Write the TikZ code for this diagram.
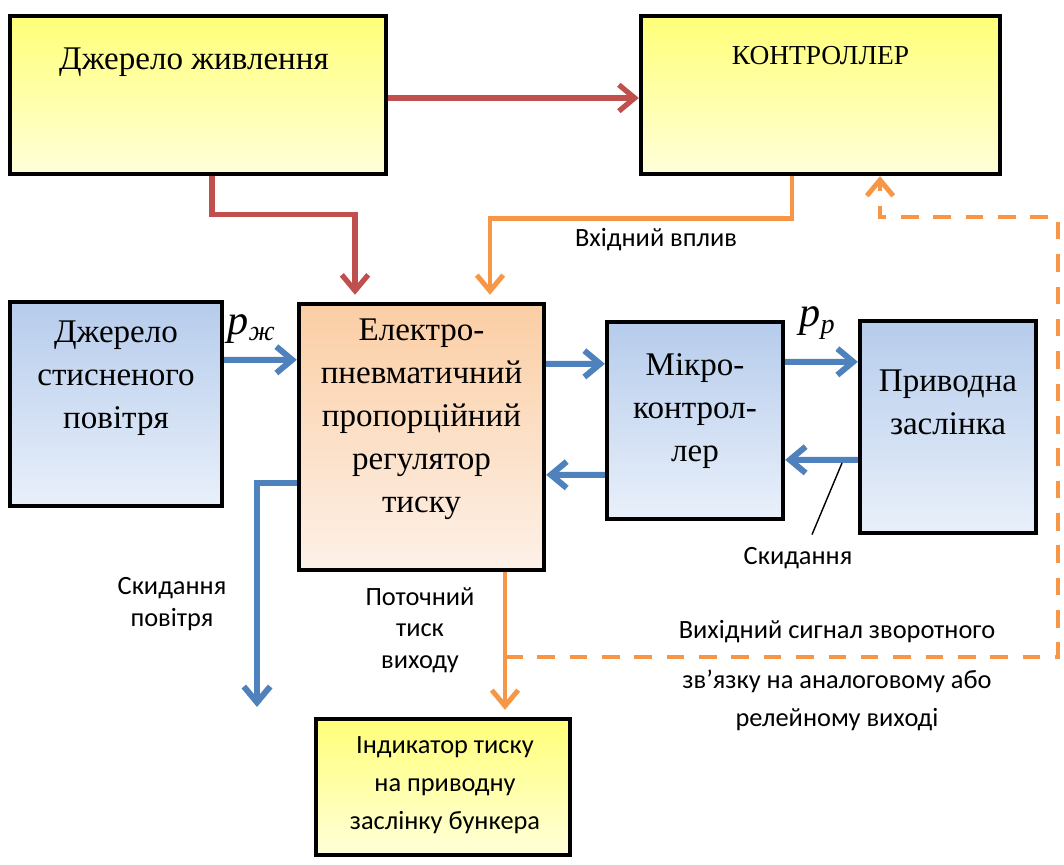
\documentclass[tikz,border=0pt]{standalone}
\usepackage{fontspec}
\setmainfont{Liberation Serif}
\setsansfont{Carlito}
\usetikzlibrary{positioning,calc,arrows.meta}
\definecolor{yelTop}{RGB}{255,255,120}
\definecolor{yelBot}{RGB}{255,255,218}
\definecolor{bluTop}{RGB}{182,204,236}
\definecolor{bluBot}{RGB}{233,240,250}
\definecolor{orgTop}{RGB}{251,206,164}
\definecolor{orgBot}{RGB}{253,241,232}
\definecolor{arrRed}{RGB}{192,80,77}
\definecolor{arrOrange}{RGB}{247,150,70}
\definecolor{arrBlue}{RGB}{79,129,189}
\tikzset{
  block/.style={draw=black,line width=1.2pt,inner sep=0pt},
  ybox/.style={block,top color=yelTop,bottom color=yelBot},
  bbox/.style={block,top color=bluTop,bottom color=bluBot},
  obox/.style={block,top color=orgTop,bottom color=orgBot},
  serif/.style={font=\fontsize{9.4}{12.2}\selectfont,align=center,inner sep=0pt},
  sans/.style={font=\sffamily\fontsize{7.5}{9}\selectfont,align=center,inner sep=0pt},
  tip/.style={-{Straight Barb[length=4.5pt,width=7.5pt]}},
  redflow/.style={tip,draw=arrRed,line width=1.5pt},
  orgflow/.style={tip,draw=arrOrange,line width=1.4pt},
  bluflow/.style={tip,draw=arrBlue,line width=1.7pt},
  fbflow/.style={tip,draw=arrOrange,line width=1.4pt,dash pattern=on 5pt off 4.2pt}
}
\begin{document}
\begin{tikzpicture}[x=0.01cm,y=-0.01cm]
  \useasboundingbox (0,0) rectangle (1064,865);
  % blocks
  \node[ybox,minimum width=3.76cm,minimum height=1.58cm] (pwr) at (198,95) {};
  \node[serif] (pwrtxt) at (194,62) {Джерело живлення};
  \node[ybox,minimum width=3.59cm,minimum height=1.58cm] (ctrl) at (820.5,95) {};
  \node[serif,font=\fontsize{7.8}{10}\selectfont] (ctrltxt) at (820.5,56) {КОНТРОЛЛЕР};
  \node[bbox,minimum width=2.12cm,minimum height=2.04cm] (air) at (116,404) {};
  \node[serif] (airtxt) at (116,378) {Джерело\\стисненого\\повітря};
  \node[obox,minimum width=2.45cm,minimum height=2.66cm] (reg) at (421.5,437) {};
  \node[serif] (regtxt) at (421.5,419) {Електро-\\пневматичний\\пропорційний\\регулятор\\тиску};
  \node[bbox,minimum width=1.76cm,minimum height=1.97cm] (mcu) at (695,420.5) {};
  \node[serif] (mcutxt) at (695,411) {Мікро-\\контрол-\\лер};
  \node[bbox,minimum width=1.76cm,minimum height=2.12cm] (valve) at (948,427) {};
  \node[serif] (valvetxt) at (948,402) {Приводна\\заслінка};
  \node[ybox,minimum width=2.54cm,minimum height=1.36cm] (ind) at (443,787) {};
  \node[sans,font=\sffamily\fontsize{7.5}{10.8}\selectfont] (indtxt) at (445,785) {Індикатор тиску\\на приводну\\заслінку бункера};
  % labels
  \node[font=\fontsize{12}{12}\selectfont,inner sep=0pt] (pzh) at (252,329) {\textit{p}\textsubscript{\textit{ж}}};
  \node[font=\fontsize{12}{12}\selectfont,inner sep=0pt] (pp) at (818,323) {\textit{p}\textsubscript{\textit{p}}};
  \node[sans] (inlbl) at (656,240) {Вхідний вплив};
  \node[sans] (skid) at (798,558) {Скидання};
  \node[sans] (airout) at (172,604) {Скидання\\повітря};
  \node[sans] (curp) at (420,630) {Поточний\\тиск\\виходу};
  \node[sans,font=\sffamily\fontsize{7.5}{10.8}\selectfont] (fblbl) at (837,676) {Вихідний сигнал зворотного\\[3.4pt]зв’язку на аналоговому або\\релейному виході};
  % connectors
  \coordinate (fbL) at (505,657);
  \coordinate (fbR) at (1058,657);
  \coordinate (fbT) at (1058,217);
  \coordinate (drain) at (257,707);
  \coordinate (skidpt) at (842,463);
  \draw[redflow] ($(pwr.east)+(0,3)$) -- ($(ctrl.west)+(0,3)$);
  \draw[redflow,shorten >=2pt] ($(pwr.south)+(14,0)$) -- ++(0,38) -| ($(reg.north)+(-66.5,0)$);
  \draw[orgflow,shorten >=2pt] ($(ctrl.south)+(-28.5,0)$) -- ++(0,42) -| ($(reg.north)+(68.5,0)$);
  \draw[fbflow] (fbL) -- (fbR) -- (fbT) -| ($(ctrl.south)+(59.5,0)$);
  \draw[orgflow,shorten >=2pt] ($(reg.south)+(83.5,0)$) -- ($(ind.north)+(62,0)$);
  \draw[bluflow] ($(air.north east)+(0,60)$) -- ($(reg.north west)+(0,58)$);
  \draw[bluflow] ($(reg.north east)+(0,62)$) -- ($(mcu.north west)+(0,44)$);
  \draw[bluflow] ($(mcu.north west)+(0,155)$) -- ($(reg.north east)+(0,173)$);
  \draw[bluflow] ($(mcu.north east)+(0,42)$) -- ($(valve.north west)+(0,43)$);
  \draw[bluflow] ($(valve.north west)+(0,141)$) -- ($(mcu.north east)+(0,140)$);
  \draw[bluflow] ($(reg.north west)+(0,181)$) -| (drain);
  \draw[thin] (skidpt) -- ($(skid.north)+(14,-12)$);
\end{tikzpicture}
\end{document}
